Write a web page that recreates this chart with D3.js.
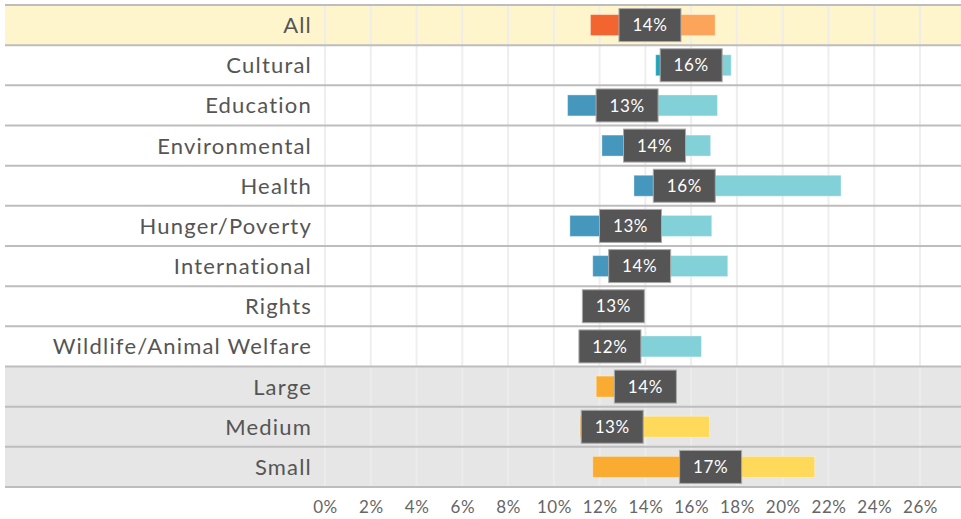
<!DOCTYPE html>
<html>
<head>
<meta charset="utf-8">
<script src="https://cdn.jsdelivr.net/npm/d3@7"></script>
<style>
  body { margin: 0; background: #fff; }
  text { font-family: Lato, "Open Sans", sans-serif; }
</style>
</head>
<body>
<div id="chart-container"></div>
<script>
// Data
const categories = ["All", "Cultural", "Education", "Environmental", "Health", "Hunger/Poverty",
  "International", "Rights", "Wildlife/Animal Welfare", "Large", "Medium", "Small"];
const groups = ["all", "cause", "cause", "cause", "cause", "cause", "cause", "cause", "cause", "size", "size", "size"];
const minValues = [11.6, 14.45, 10.6, 12.1, 13.5, 10.7, 11.7, 12.6, 11.5, 11.85, 11.15, 11.7];
const medianValues = [14.2, 16.0, 13.2, 14.4, 15.7, 13.35, 13.75, 12.6, 12.45, 14.0, 12.55, 16.85];
const maxValues = [17.05, 17.75, 17.15, 16.85, 22.55, 16.9, 17.6, 12.6, 16.45, 14.5, 16.8, 21.4];
const medianLabels = ["14%", "16%", "13%", "14%", "16%", "13%", "14%", "13%", "12%", "14%", "13%", "17%"];
const tickValues = [0, 2, 4, 6, 8, 10, 12, 14, 16, 18, 20, 22, 24, 26];

const colors = {
  all:   {low: "#f26430", high: "#fca55a", bg: "#fff5cd"},
  cause: {low: "#4597bd", high: "#83d1d8", bg: "#ffffff"},
  size:  {low: "#faab31", high: "#fed95a", bg: "#e6e6e6"}
};

const width = 961, height = 519;
const plotLeft = 325, plotTop = 5, plotBottom = 487;

const svg = d3.select("#chart-container")
  .append("svg")
    .attr("width", width)
    .attr("height", height);

const x = d3.scaleLinear()
  .domain([0, 28])
  .range([plotLeft, plotLeft + 28 * 22.885]);

const y = d3.scaleBand()
  .domain(categories)
  .range([plotTop, plotBottom])
  .padding(0);

const rows = categories.map((c, i) => ({
  name: c, group: groups[i], min: minValues[i], med: medianValues[i], max: maxValues[i], label: medianLabels[i]
}));

// Row backgrounds
svg.selectAll(".bg")
  .data(rows)
  .join("rect")
  .attr("x", 5)
  .attr("y", d => y(d.name))
  .attr("width", width - 5)
  .attr("height", y.bandwidth())
  .attr("fill", d => colors[d.group].bg);

// Vertical gridlines
svg.selectAll(".grid")
  .data(tickValues)
  .join("line")
  .attr("x1", d => x(d))
  .attr("x2", d => x(d))
  .attr("y1", plotTop)
  .attr("y2", plotBottom)
  .attr("stroke", "#ececec")
  .attr("stroke-opacity", 0.9)
  .attr("stroke-width", 2);

// Row separators
svg.selectAll(".sep")
  .data(d3.range(categories.length + 1))
  .join("line")
  .attr("x1", 5)
  .attr("x2", width)
  .attr("y1", i => plotTop + i * y.bandwidth())
  .attr("y2", i => plotTop + i * y.bandwidth())
  .attr("stroke", "#bdbdbd")
  .attr("stroke-width", 2);

// Category labels
svg.selectAll(".cat")
  .data(rows)
  .join("text")
  .attr("x", 312)
  .attr("y", d => y(d.name) + y.bandwidth() / 2)
  .attr("dy", "0.36em")
  .attr("text-anchor", "end")
  .attr("fill", "#555")
  .style("font-size", "22px")
  .style("letter-spacing", "1.2px")
  .text(d => d.name);

const barH = 21;

// Low part: min to median
svg.selectAll(".low")
  .data(rows.filter(d => d.med > d.min))
  .join("rect")
  .attr("x", d => x(d.min))
  .attr("y", d => y(d.name) + y.bandwidth() / 2 - barH / 2)
  .attr("width", d => x(d.med) - x(d.min))
  .attr("height", barH)
  .attr("fill", d => d.name === "Cultural" ? "#21a3b9" : colors[d.group].low)
  .attr("stroke", "#fff")
  .attr("stroke-opacity", 0.35)
  .attr("stroke-width", 1);

// High part: median to max
svg.selectAll(".high")
  .data(rows.filter(d => d.max > d.med))
  .join("rect")
  .attr("x", d => x(d.med))
  .attr("y", d => y(d.name) + y.bandwidth() / 2 - barH / 2)
  .attr("width", d => x(d.max) - x(d.med))
  .attr("height", barH)
  .attr("fill", d => colors[d.group].high)
  .attr("stroke", "#fff")
  .attr("stroke-opacity", 0.35)
  .attr("stroke-width", 1);

// Median boxes
const boxW = 62, boxH = 33;
const box = svg.selectAll(".box")
  .data(rows)
  .join("g")
  .attr("transform", d => `translate(${x(d.med)}, ${y(d.name) + y.bandwidth() / 2})`);

box.append("rect")
  .attr("x", -boxW / 2)
  .attr("y", -boxH / 2)
  .attr("width", boxW)
  .attr("height", boxH)
  .attr("fill", "#555")
  .attr("stroke", "#aaa")
  .attr("stroke-width", 1);

box.append("text")
  .attr("text-anchor", "middle")
  .attr("dy", "0.36em")
  .attr("fill", "#fff")
  .style("font-size", "17px")
  .style("letter-spacing", "0.6px")
  .text(d => d.label);

// X axis
const axis = svg.append("g")
  .attr("transform", `translate(0, ${plotBottom})`)
  .call(d3.axisBottom(x)
    .tickValues(tickValues)
    .tickFormat(d => d + "%")
    .tickSize(0)
    .tickPadding(14))
  .call(g => g.select(".domain").remove());

axis.selectAll(".tick text")
  .attr("fill", "#666")
  .style("font-size", "17px")
  .style("letter-spacing", "0.5px")
  .style("font-family", "Lato, sans-serif");
</script>
</body>
</html>
